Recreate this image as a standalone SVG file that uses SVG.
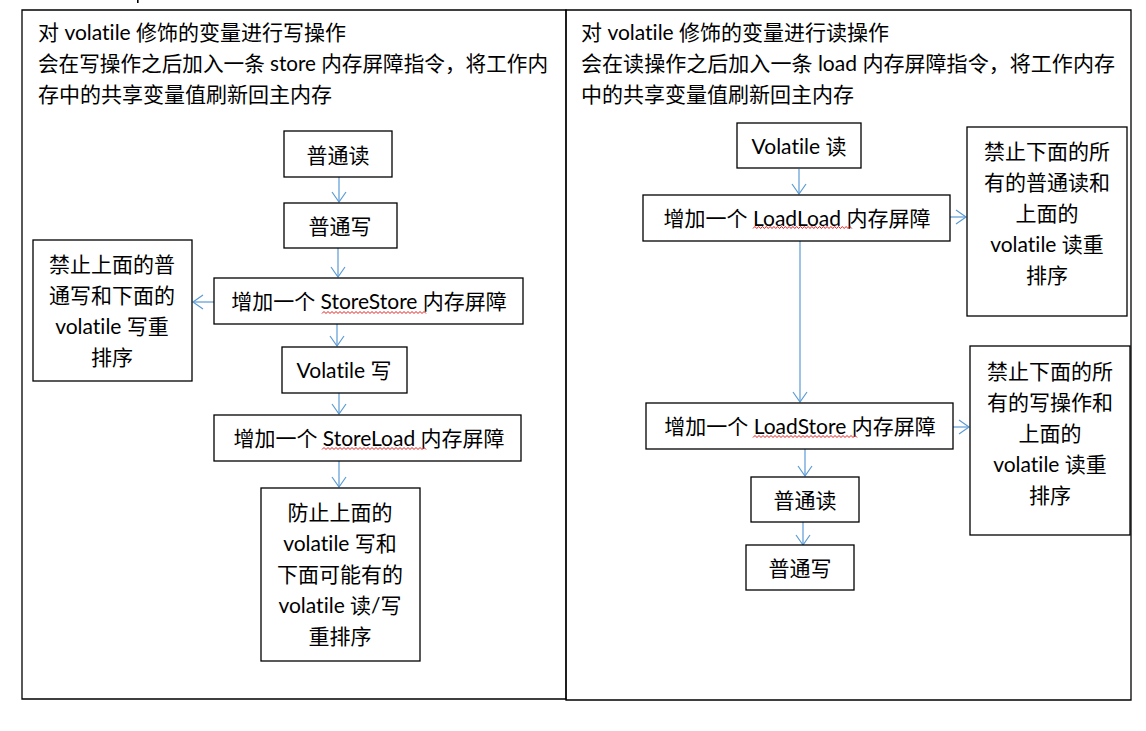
<svg xmlns="http://www.w3.org/2000/svg" xmlns:xlink="http://www.w3.org/1999/xlink" width="1146" height="731" viewBox="0 0 1146 731">
  <style>
    text { font-family: Lato, "Noto Sans CJK SC", sans-serif; font-size: 21px; fill: #000; font-variant-ligatures: none; font-feature-settings: "liga" 0, "clig" 0; }
    .c { text-anchor: middle; }
    .panel { fill: none; stroke: #000; stroke-width: 1.3; }
    .box { fill: #fff; stroke: #000; stroke-width: 1.3; }
    .arrow { fill: none; stroke: #5B9BD5; stroke-width: 1.2; marker-end: url(#head); }
    .wave { fill: none; stroke: #E00000; stroke-width: 0.9; }
  </style>
  <defs>
    <marker id="head" markerUnits="userSpaceOnUse" markerWidth="14" markerHeight="18" viewBox="-12 -9 14 18" refX="0" refY="0" orient="auto">
      <path d="M-10,-7 L0,0 L-10,7" fill="none" stroke="#5B9BD5" stroke-width="1.2"/>
    </marker>
    <!-- spell-check style wavy underline, 100px long -->
    <path id="squiggle" class="wave" d="M0,1.5 l2,-2 l2,2 l2,-2 l2,2 l2,-2 l2,2 l2,-2 l2,2 l2,-2 l2,2 l2,-2 l2,2 l2,-2 l2,2 l2,-2 l2,2 l2,-2 l2,2 l2,-2 l2,2 l2,-2 l2,2 l2,-2 l2,2 l2,-2 l2,2 l2,-2 l2,2 l2,-2 l2,2 l2,-2 l2,2 l2,-2 l2,2 l2,-2 l2,2 l2,-2 l2,2 l2,-2 l2,2 l2,-2 l2,2 l2,-2 l2,2 l2,-2 l2,2 l2,-2 l2,2 l2,-2 l2,2 l2,-2 l2,2"/>
  </defs>

  <rect x="0" y="0" width="1146" height="731" fill="#fff"/>
  <!-- clipped fragment at the top edge -->
  <rect x="137" y="0" width="1.6" height="3" fill="#000"/>

  <!-- outer panels -->
  <g id="panel-write">
    <path class="panel" d="M22,10 H566 V699 H22 Z"/>
    <text x="38" y="40">对 volatile 修饰的变量进行写操作</text>
    <text x="38" y="71" textLength="510" lengthAdjust="spacingAndGlyphs">会在写操作之后加入一条 store 内存屏障指令，将工作内</text>
    <text x="38" y="102">存中的共享变量值刷新回主内存</text>
  </g>
  <g id="panel-read">
    <path class="panel" d="M566,10 H1131 V700 H566 Z"/>
    <text x="581" y="40">对 volatile 修饰的变量进行读操作</text>
    <text x="581" y="71" textLength="534" lengthAdjust="spacingAndGlyphs">会在读操作之后加入一条 load 内存屏障指令，将工作内存</text>
    <text x="581" y="102">中的共享变量值刷新回主内存</text>
  </g>

  <!-- connectors -->
  <g id="connectors">
    <line class="arrow" x1="339" y1="177" x2="339" y2="202"/>
    <line class="arrow" x1="338" y1="248" x2="338" y2="277"/>
    <line class="arrow" x1="214" y1="302" x2="193" y2="302"/>
    <line class="arrow" x1="337" y1="324" x2="337" y2="346"/>
    <line class="arrow" x1="339" y1="393" x2="339" y2="414"/>
    <line class="arrow" x1="339" y1="461" x2="339" y2="487"/>

    <line class="arrow" x1="799" y1="169" x2="799" y2="194"/>
    <line class="arrow" x1="950" y1="217" x2="966" y2="217"/>
    <line class="arrow" x1="800" y1="241" x2="800" y2="402"/>
    <line class="arrow" x1="953" y1="427" x2="969" y2="427"/>
    <line class="arrow" x1="805" y1="449" x2="805" y2="476"/>
    <line class="arrow" x1="803" y1="522" x2="803" y2="545"/>
  </g>

  <!-- write side -->
  <g id="w-normal-read">
    <rect class="box" x="284" y="131" width="108" height="46"/>
    <text class="c" x="338" y="163">普通读</text>
  </g>
  <g id="w-normal-write">
    <rect class="box" x="284" y="203" width="113" height="45"/>
    <text class="c" x="340" y="234">普通写</text>
  </g>
  <g id="w-storestore">
    <rect class="box" x="214" y="278" width="309" height="46"/>
    <text class="c" x="369" y="309">增加一个 StoreStore 内存屏障</text>
    <use xlink:href="#squiggle" x="322" y="312"/>
  </g>
  <g id="w-storestore-note">
    <rect class="box" x="33" y="240" width="159" height="141"/>
    <text class="c" x="112" y="272">禁止上面的普</text>
    <text class="c" x="112" y="303">通写和下面的</text>
    <text class="c" x="112" y="334">volatile 写重</text>
    <text class="c" x="112" y="365">排序</text>
  </g>
  <g id="w-volatile-write">
    <rect class="box" x="282" y="347" width="125" height="46"/>
    <text class="c" x="344" y="378">Volatile 写</text>
  </g>
  <g id="w-storeload">
    <rect class="box" x="214" y="415" width="307" height="46"/>
    <text class="c" x="369" y="446">增加一个 StoreLoad 内存屏障</text>
    <use xlink:href="#squiggle" x="322" y="448"/>
  </g>
  <g id="w-storeload-note">
    <rect class="box" x="261" y="488" width="159" height="173"/>
    <text class="c" x="340" y="520">防止上面的</text>
    <text class="c" x="340" y="551">volatile 写和</text>
    <text class="c" x="340" y="582">下面可能有的</text>
    <text class="c" x="340" y="613">volatile 读/写</text>
    <text class="c" x="340" y="644">重排序</text>
  </g>

  <!-- read side -->
  <g id="r-volatile-read">
    <rect class="box" x="737" y="123" width="124" height="45"/>
    <text class="c" x="799" y="154">Volatile 读</text>
  </g>
  <g id="r-loadload">
    <rect class="box" x="643" y="195" width="307" height="46"/>
    <text class="c" x="797" y="226">增加一个 LoadLoad 内存屏障</text>
    <use xlink:href="#squiggle" transform="translate(753,227) scale(0.95,1)"/>
  </g>
  <g id="r-loadload-note">
    <rect class="box" x="967" y="127" width="160" height="189"/>
    <text class="c" x="1047" y="159">禁止下面的所</text>
    <text class="c" x="1047" y="190">有的普通读和</text>
    <text class="c" x="1047" y="221">上面的</text>
    <text class="c" x="1047" y="252">volatile 读重</text>
    <text class="c" x="1047" y="283">排序</text>
  </g>
  <g id="r-loadstore">
    <rect class="box" x="646" y="403" width="307" height="46"/>
    <text class="c" x="800" y="434">增加一个 LoadStore 内存屏障</text>
    <use xlink:href="#squiggle" x="753" y="436"/>
  </g>
  <g id="r-loadstore-note">
    <rect class="box" x="970" y="346" width="160" height="189"/>
    <text class="c" x="1050" y="379">禁止下面的所</text>
    <text class="c" x="1050" y="410">有的写操作和</text>
    <text class="c" x="1050" y="441">上面的</text>
    <text class="c" x="1050" y="472">volatile 读重</text>
    <text class="c" x="1050" y="503">排序</text>
  </g>
  <g id="r-normal-read">
    <rect class="box" x="751" y="477" width="108" height="45"/>
    <text class="c" x="805" y="508">普通读</text>
  </g>
  <g id="r-normal-write">
    <rect class="box" x="746" y="545" width="108" height="45"/>
    <text class="c" x="800" y="576">普通写</text>
  </g>
</svg>
